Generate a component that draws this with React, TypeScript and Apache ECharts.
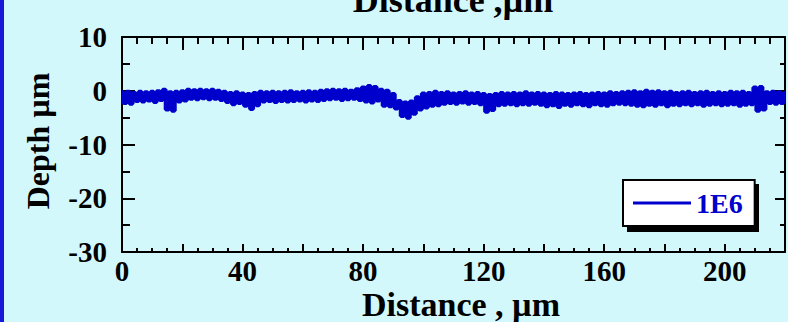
import React, { useEffect, useRef } from "react";
import * as echarts from "echarts";

// Depth profile (µm), sampled every 1 µm from 0 to 220 µm
const depth = [
  -0.3, -2.3, -0.2, -2.4, -0.4, -1.9, -0.2, -2.0, -0.3, -1.8,
  -0.2, -2.1, -0.1, -1.7, 0.2, -3.5, -0.3, -3.7, -0.2, -2.0,
  -0.1, -1.8, 0.2, -1.5, 0.1, -1.6, 0.2, -1.4, 0.1, -1.6,
  0.2, -1.5, 0.0, -1.7, -0.2, -2.1, -0.4, -2.5, -0.3, -2.3,
  -0.5, -2.8, -0.6, -3.4, -0.4, -2.7, -0.2, -2.0, -0.3, -1.9,
  -0.2, -2.1, -0.3, -1.9, -0.2, -2.0, -0.1, -1.9, -0.3, -1.8,
  -0.2, -2.0, -0.1, -1.8, -0.2, -1.9, 0.0, -1.7, 0.1, -1.6,
  0.2, -1.5, 0.1, -1.7, 0.2, -1.6, 0.0, -1.5, 0.3, -1.7,
  0.6, -2.0, 0.9, -2.2, 0.7, -1.8, 0.2, -2.8, 0.0, -2.9,
  -0.6, -3.3, -1.9, -4.7, -2.2, -5.0, -2.0, -4.3, -1.2, -3.5,
  -0.5, -3.1, -0.4, -2.8, -0.2, -2.7, -0.4, -2.4, -0.3, -2.3,
  -0.5, -2.4, -0.4, -2.2, -0.3, -2.4, -0.5, -2.3, -0.4, -2.5,
  -0.6, -3.9, -0.8, -3.6, -0.6, -2.7, -0.4, -2.6, -0.5, -2.5,
  -0.4, -2.7, -0.5, -2.5, -0.3, -2.6, -0.5, -2.4, -0.4, -2.6,
  -0.5, -2.9, -0.6, -2.7, -0.4, -3.0, -0.5, -2.6, -0.6, -2.8,
  -0.5, -2.5, -0.4, -2.7, -0.6, -2.9, -0.5, -2.5, -0.4, -2.7,
  -0.5, -2.8, -0.3, -2.5, -0.4, -2.4, -0.3, -2.5, -0.2, -2.6,
  -0.1, -2.8, -0.3, -2.9, 0.0, -2.6, -0.2, -2.8, -0.1, -2.5,
  -0.3, -2.9, -0.2, -2.6, -0.4, -2.7, -0.3, -2.5, -0.2, -2.7,
  -0.4, -2.5, -0.3, -2.8, -0.2, -2.6, -0.4, -2.5, -0.3, -2.7,
  -0.4, -2.6, -0.2, -2.5, -0.3, -2.8, -0.2, -2.6, -0.4, -2.5,
  0.6, -3.7, 0.7, -3.5, -0.3, -2.3, -0.2, -2.4, -0.3, -2.3,
  -0.4,
];
const sampleStepUm = 1;
const seriesName = "1E6";
const titleText = "Distance ,µm";
const xTitle = "Distance , µm";
const yTitle = "Depth µm";
const xRange = [0, 220];
const yRange = [-30, 10];

const FONT = "'Liberation Serif', 'Times New Roman', serif";
const BLUE = "#0000cc";

export default function App() {
  const ref = useRef<HTMLDivElement>(null);
  useEffect(() => {
    if (!ref.current) return;
    const chart = echarts.init(ref.current, undefined, { renderer: "svg" });
    const data = depth.map((d, i) => [i * sampleStepUm, d]);
    const tickStyle = { color: "#000", width: 2 };
    const labelStyle = {
      fontFamily: FONT,
      fontWeight: "bold" as const,
      fontSize: 29,
      color: "#000",
    };
    chart.setOption({
      animation: false,
      backgroundColor: "#d3f8fc",
      grid: { left: 122, top: 37, right: 1, bottom: 70 },
      xAxis: [
        {
          type: "value",
          position: "bottom",
          min: xRange[0],
          max: xRange[1],
          interval: 20,
          axisLine: { show: true, onZero: false, lineStyle: tickStyle },
          axisTick: { show: true, inside: true, length: 8, lineStyle: tickStyle },
          minorTick: { show: true, splitNumber: 4, length: 4, lineStyle: tickStyle },
          splitLine: { show: false },
          axisLabel: {
            ...labelStyle,
            margin: 4,
            formatter: (v: number) => (v % 40 === 0 ? String(v) : ""),
          },
        },
        {
          type: "value",
          position: "top",
          min: xRange[0],
          max: xRange[1],
          interval: 20,
          axisLine: { show: true, onZero: false, lineStyle: tickStyle },
          axisTick: { show: true, inside: true, length: 13, lineStyle: tickStyle },
          minorTick: { show: true, splitNumber: 4, length: 7, lineStyle: tickStyle },
          splitLine: { show: false },
          axisLabel: { show: false },
        },
      ],
      yAxis: [
        {
          type: "value",
          position: "left",
          min: yRange[0],
          max: yRange[1],
          interval: 10,
          axisLine: { show: true, onZero: false, lineStyle: tickStyle },
          axisTick: { show: true, inside: true, length: 13, lineStyle: tickStyle },
          minorTick: { show: true, splitNumber: 2, length: 8, lineStyle: tickStyle },
          splitLine: { show: false },
          axisLabel: { ...labelStyle, margin: 15 },
        },
        {
          type: "value",
          position: "right",
          min: yRange[0],
          max: yRange[1],
          interval: 10,
          axisLine: { show: true, onZero: false, lineStyle: tickStyle },
          axisTick: { show: true, inside: true, length: 10, lineStyle: tickStyle },
          minorTick: { show: true, splitNumber: 2, length: 5, lineStyle: tickStyle },
          splitLine: { show: false },
          axisLabel: { show: false },
        },
      ],
      legend: {
        data: [seriesName],
        left: 623,
        top: 180,
        backgroundColor: "#ffffff",
        borderColor: "#000",
        borderWidth: 2,
        borderRadius: 0,
        padding: [9, 12, 9, 10],
        icon: "rect",
        itemWidth: 58,
        itemHeight: 3,
        textStyle: {
          color: BLUE,
          fontFamily: FONT,
          fontWeight: "bold",
          fontSize: 28,
        },
      },
      graphic: [
        {
          type: "rect",
          z: -1,
          shape: { x: 0, y: 0, width: 4, height: 322 },
          style: { fill: "#1818d8" },
        },
        {
          type: "rect",
          z: 0,
          shape: { x: 627, y: 184, width: 132, height: 48 },
          style: { fill: "#000" },
        },
        {
          type: "text",
          x: 453,
          y: 0,
          style: {
            text: titleText,
            align: "center",
            verticalAlign: "middle",
            fontFamily: FONT,
            fontWeight: "bold",
            fontSize: 36,
            fill: "#000",
          },
        },
        {
          type: "text",
          x: 461,
          y: 304,
          style: {
            text: xTitle,
            align: "center",
            verticalAlign: "middle",
            fontFamily: FONT,
            fontWeight: "bold",
            fontSize: 34,
            fill: "#000",
          },
        },
        {
          type: "text",
          x: 38,
          y: 141,
          rotation: Math.PI / 2,
          style: {
            text: yTitle,
            align: "center",
            verticalAlign: "middle",
            fontFamily: FONT,
            fontWeight: "bold",
            fontSize: 32,
            fill: "#000",
          },
        },
      ],
      series: [
        {
          name: seriesName,
          type: "line",
          xAxisIndex: 0,
          yAxisIndex: 0,
          data,
          step: "middle",
          showSymbol: false,
          symbol: "none",
          color: BLUE,
          lineStyle: { color: BLUE, width: 4 },
        },
      ],
    });
    return () => chart.dispose();
  }, []);
  return (
    <div
      ref={ref}
      style={{ position: "fixed", left: 0, top: 0, width: 788, height: 322 }}
    />
  );
}
